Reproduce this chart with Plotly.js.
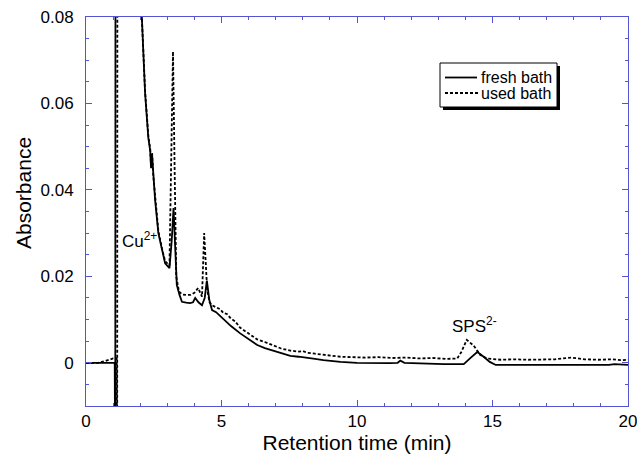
<!DOCTYPE html>
<html>
<head>
<meta charset="utf-8">
<script src="https://cdn.plot.ly/plotly-3.0.1.min.js"></script>
<style>
  html, body { margin: 0; padding: 0; background: #ffffff; }
  #chart { width: 637px; height: 458px; }
</style>
</head>
<body>
<div id="chart"></div>
<script>
// ---- data ----
const freshTime = [0, 0.5, 1.0, 1.06, 1.08, 1.10, 1.95, 2.06, 2.18, 2.30, 2.37, 2.40, 2.44, 2.48, 2.55, 2.67, 2.80, 2.92, 3.08, 3.16, 3.23, 3.29, 3.35, 3.45, 3.54, 3.70, 3.84, 3.95, 4.03, 4.15, 4.28, 4.38, 4.46, 4.55, 4.65, 4.80, 5.07, 5.35, 5.69, 6.00, 6.32, 6.60, 6.91, 7.20, 7.54, 7.85, 8.17, 8.45, 8.76, 9.39, 10.0, 10.5, 11.2, 11.5, 11.6, 11.75, 12.5, 13.2, 13.6, 13.94, 14.2, 14.44, 14.65, 14.9, 15.12, 15.6, 16.5, 17.5, 18.5, 19.3, 19.5, 20];
const freshAbs  = [0, 0, 0, 0, -0.03, 0.3, 0.2, 0.08, 0.0624, 0.052, 0.049, 0.045, 0.048, 0.043, 0.0376, 0.030, 0.026, 0.023, 0.0219, 0.028, 0.0358, 0.026, 0.018, 0.0157, 0.0141, 0.0139, 0.0138, 0.0140, 0.0150, 0.0140, 0.0133, 0.0150, 0.0190, 0.0145, 0.0122, 0.0117, 0.0101, 0.0085, 0.0068, 0.0054, 0.0041, 0.0034, 0.0028, 0.0021, 0.0016, 0.0014, 0.0012, 0.0009, 0.0006, 0.0002, 0.0000, -0.0001, -0.0001, 0.0000, 0.0005, 0.0000, -0.0002, -0.0003, -0.0003, -0.0003, 0.0012, 0.0025, 0.0015, 0.0002, -0.0005, -0.0005, -0.0005, -0.0004, -0.0005, -0.0005, -0.0003, -0.0005];

const usedTime = [0, 0.45, 0.7, 1.0, 1.13, 1.15, 1.17, 1.95, 2.06, 2.18, 2.30, 2.37, 2.40, 2.44, 2.48, 2.55, 2.67, 2.80, 2.92, 3.08, 3.14, 3.21, 3.27, 3.33, 3.43, 3.55, 3.70, 3.85, 4.00, 4.14, 4.28, 4.36, 4.47, 4.56, 4.65, 4.80, 4.95, 5.07, 5.20, 5.35, 5.50, 5.69, 6.00, 6.32, 6.60, 6.91, 7.20, 7.54, 7.85, 8.00, 8.17, 8.45, 8.76, 9.10, 9.39, 9.80, 10.3, 10.8, 11.3, 11.8, 12.3, 12.8, 13.3, 13.7, 13.85, 14.05, 14.3, 14.55, 14.8, 15.3, 15.8, 16.3, 16.8, 17.3, 17.9, 18.4, 18.9, 19.4, 19.8, 20];
const usedAbs  = [0, 0, 0.0004, 0.0010, 0.0010, -0.03, 0.3, 0.2, 0.08, 0.0628, 0.0525, 0.0495, 0.0455, 0.0485, 0.0435, 0.0380, 0.0305, 0.0265, 0.0235, 0.0225, 0.045, 0.072, 0.045, 0.0200, 0.0165, 0.0158, 0.0157, 0.0157, 0.0162, 0.0173, 0.0153, 0.0300, 0.0170, 0.0140, 0.0133, 0.0128, 0.0124, 0.0115, 0.0113, 0.0102, 0.0096, 0.0081, 0.0067, 0.0054, 0.0048, 0.0041, 0.0033, 0.0028, 0.0026, 0.0027, 0.0023, 0.0021, 0.0018, 0.0016, 0.0014, 0.0013, 0.0012, 0.0013, 0.0011, 0.0012, 0.0010, 0.0011, 0.0009, 0.0010, 0.0025, 0.0053, 0.0040, 0.0018, 0.0010, 0.0007, 0.0008, 0.0007, 0.0008, 0.0008, 0.0012, 0.0008, 0.0007, 0.0008, 0.0006, 0.0007];

const seriesNames = ["fresh bath", "used bath"];
const xTickVals = [0, 5, 10, 15, 20];
const xTickText = ["0", "5", "10", "15", "20"];
const yTickVals = [0, 0.02, 0.04, 0.06, 0.08];
const yTickText = ["0", "0.02", "0.04", "0.06", "0.08"];
const peakLabels = ["Cu<sup>2+</sup>", "SPS<sup>2-</sup>"];
const peakLabelX = [1.96, 14.35];
const peakLabelY = [0.0284, 0.0087];
const xTitle = "Retention time (min)";
const yTitle = "Absorbance";

// ---- chart ----
const axisColor = "#5353d6";
const font = "Liberation Sans, Arial, Helvetica, sans-serif";
const W = 637, H = 458;
const M = { l: 86, r: 9, t: 17, b: 52 };
const pw = W - M.l - M.r, ph = H - M.t - M.b;
const px = v => (v - M.l) / pw;          // pixel x -> paper
const py = v => (H - M.b - v) / ph;      // pixel y -> paper

const traces = [
  { x: freshTime, y: freshAbs, name: seriesNames[0], type: "scatter", mode: "lines",
    line: { color: "#000000", width: 1.8 }, showlegend: false },
  { x: usedTime, y: usedAbs, name: seriesNames[1], type: "scatter", mode: "lines",
    line: { color: "#000000", width: 1.8, dash: "3px,2px" }, showlegend: false }
];

// hand-drawn legend (box with drop shadow) to match the reference
const legendShapes = [
  { type: "rect", xref: "paper", yref: "paper", x0: px(443), x1: px(560), y0: py(110), y1: py(66),
    fillcolor: "#000000", line: { width: 0 }, layer: "above" },
  { type: "rect", xref: "paper", yref: "paper", x0: px(440), x1: px(557), y0: py(107), y1: py(63),
    fillcolor: "#ffffff", line: { color: "#000000", width: 1 }, layer: "above" },
  { type: "line", xref: "paper", yref: "paper", x0: px(445), x1: px(477), y0: py(77.5), y1: py(77.5),
    line: { color: "#000000", width: 1.8 }, layer: "above" },
  { type: "line", xref: "paper", yref: "paper", x0: px(445), x1: px(478), y0: py(93), y1: py(93),
    line: { color: "#000000", width: 1.8, dash: "3px,2px" }, layer: "above" }
];
const legendTexts = seriesNames.map((n, i) => ({
  xref: "paper", yref: "paper", x: px(479), y: py(i === 0 ? 77.5 : 93.5),
  xanchor: "left", yanchor: "middle", text: n, showarrow: false,
  font: { family: font, size: 16, color: "#000000" }
}));
// y-axis title placed where the reference has it (slightly above the plot centre)
const yTitleAnn = {
  xref: "paper", yref: "paper", x: px(23), y: py(193), xanchor: "center", yanchor: "middle",
  text: yTitle, textangle: -90, showarrow: false,
  font: { family: font, size: 21, color: "#000000" }
};

const layout = {
  width: W, height: H,
  margin: M,
  paper_bgcolor: "#ffffff", plot_bgcolor: "#ffffff",
  font: { family: font, color: "#000000", size: 16 },
  showlegend: false,
  xaxis: {
    range: [0, 20], tickmode: "array", tickvals: xTickVals, ticktext: xTickText,
    ticks: "inside", ticklen: 6, tickwidth: 1, tickcolor: axisColor,
    showline: true, linecolor: axisColor, linewidth: 1, mirror: "allticks",
    showgrid: false, zeroline: false, ticklabeloverflow: "allow",
    minor: { tickmode: "linear", tick0: 0, dtick: 1, ticks: "inside", ticklen: 3, tickcolor: axisColor, showgrid: false },
    tickfont: { family: font, size: 17, color: "#000000" },
    title: { text: xTitle, font: { family: font, size: 21, color: "#000000" }, standoff: 2 }
  },
  yaxis: {
    range: [-0.01, 0.08], tickmode: "array", tickvals: yTickVals, ticktext: yTickText,
    ticks: "inside", ticklen: 6, tickwidth: 1, tickcolor: axisColor,
    showline: true, linecolor: axisColor, linewidth: 1, mirror: "allticks",
    showgrid: false, zeroline: false, ticklabeloverflow: "allow",
    minor: { tickmode: "linear", tick0: 0, dtick: 0.005, ticks: "inside", ticklen: 3, tickcolor: axisColor, showgrid: false },
    tickfont: { family: font, size: 17, color: "#000000" },
    ticklabelstandoff: 8
  },
  annotations: peakLabels.map((t, i) => ({
    x: peakLabelX[i], y: peakLabelY[i], xref: "x", yref: "y", text: t, showarrow: false,
    font: { family: font, size: 17, color: "#000000" }
  })).concat(legendTexts, [yTitleAnn]),
  shapes: legendShapes
};

Plotly.newPlot("chart", traces, layout, { staticPlot: true, displayModeBar: false });
</script>
</body>
</html>
